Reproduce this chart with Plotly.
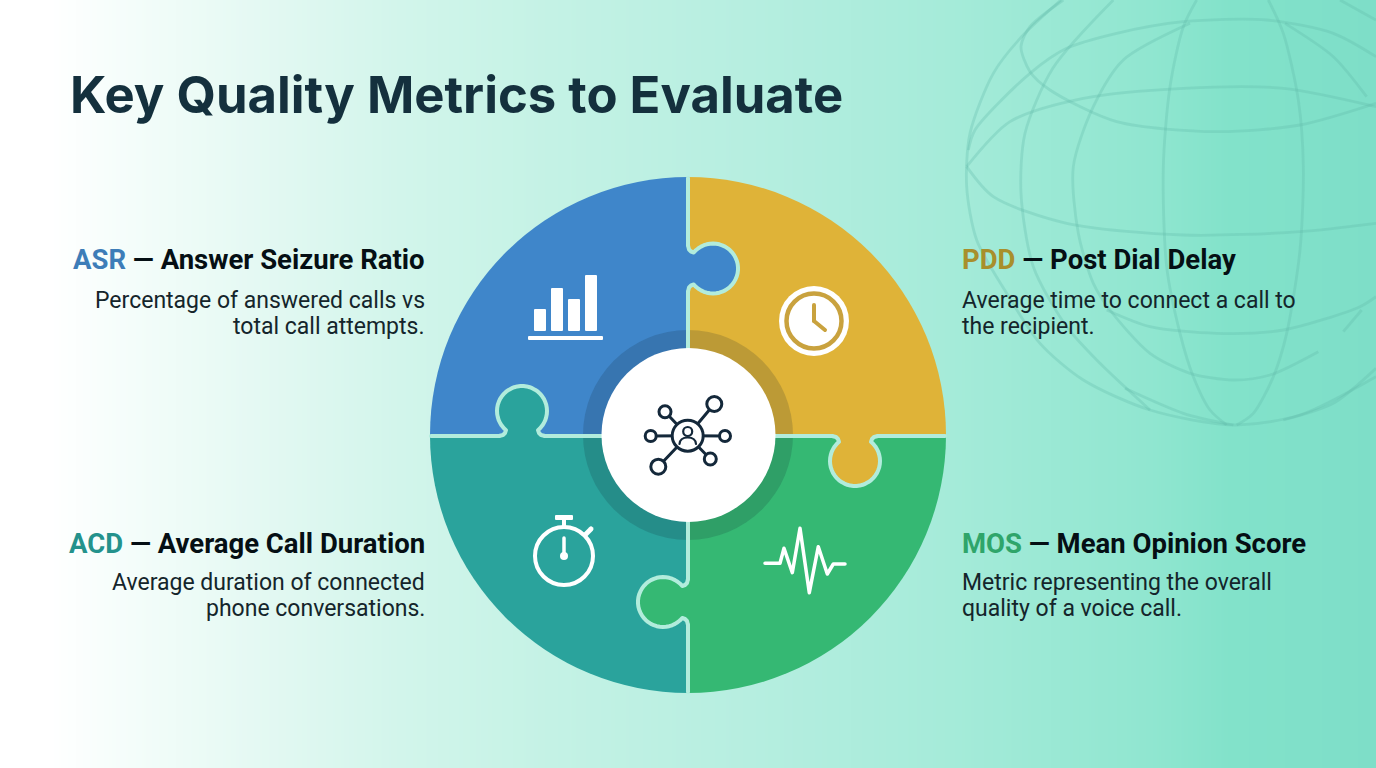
import numpy as np
import plotly.graph_objects as go

WIDTH = 1376
HEIGHT = 768
CX, CY = 688, 435
PALE = "#b2ecdc"
DARK = "#14283a"

title = "Key Quality Metrics to Evaluate"

# pie slices, clockwise from 12 o'clock
slice_names = ["PDD", "MOS", "ACD", "ASR"]
slice_values = [25, 25, 25, 25]
slice_colors = ["#dfb338", "#35b873", "#2aa39c", "#3f86ca"]

abbrevs = ["ASR", "PDD", "ACD", "MOS"]
abbrev_colors = ["#3d7db8", "#a88f2c", "#24928c", "#2fa56a"]
names = ["Answer Seizure Ratio", "Post Dial Delay", "Average Call Duration", "Mean Opinion Score"]
desc_lines = [
    ["Percentage of answered calls vs", "total call attempts."],
    ["Average time to connect a call to", "the recipient."],
    ["Average duration of connected", "phone conversations."],
    ["Metric representing the overall", "quality of a voice call."],
]

# background colour along x
bg_x = [0, 50, 100, 250, 400, 550, 750, 950, 1150, 1230, 1376]
bg_colors = ["#ffffff", "#ffffff", "#f8fefc", "#e5f9f3", "#d2f5eb", "#c4f2e5", "#b6eee0", "#a5ebd9", "#90e6d0", "#82e2ca", "#7edec8"]

# little bar chart icon
icon_bar_heights = [22, 43, 32, 56]

# pulse icon
pulse_x = [240, 285, 297, 322, 345, 373, 400, 427, 445, 480]
pulse_y = [400, 400, 355, 428, 295, 488, 350, 432, 402, 402]

# network icon nodes: x, y, r
node_x = [714.3, 665, 650.7, 725, 710.3, 658.3]
node_y = [404, 411.7, 436, 436, 459, 466.7]
node_r = [7.5, 6, 5.5, 5.5, 6, 7.5]

# background globe, traced in 3x zoom coords of the top right corner
globe_lines = [
    [(333, 0), (215, 110), (130, 220), (60, 400), (50, 560), (80, 720), (170, 880), (270, 1030), (400, 1140), (600, 1230), (850, 1275), (1050, 1245), (1278, 1130)],
    [(340, 0), (240, 80), (213, 140), (240, 215), (300, 270), (500, 365), (800, 395), (1050, 375), (1278, 310)],
    [(55, 450), (75, 390), (240, 220), (350, 145), (500, 100), (700, 65), (950, 60), (1150, 100), (1278, 170)],
    [(490, 0), (309, 204), (225, 400), (213, 580), (250, 800), (350, 980), (450, 1090), (600, 1230)],
    [(720, 70), (520, 180), (430, 320), (370, 500), (385, 700), (430, 850), (480, 930), (600, 1060), (720, 1120), (850, 1140), (960, 1125), (1105, 1055)],
    [(740, 0), (700, 80), (660, 260), (640, 500), (650, 800), (690, 1000), (730, 1130), (780, 1230), (830, 1275)],
    [(955, 0), (1000, 100), (1045, 300), (1060, 500), (1050, 750), (1010, 1000), (970, 1130), (910, 1240), (860, 1275)],
    [(50, 500), (180, 365), (400, 295), (700, 265), (1000, 265), (1278, 320)],
    [(50, 500), (130, 590), (350, 670), (700, 705), (1050, 695), (1278, 670)],
    [(470, 930), (600, 980), (800, 1000), (1000, 990), (1230, 920), (1278, 890)],
    [(525, 1165), (700, 1240), (850, 1275)],
    [(1278, 1105), (1150, 1210), (1000, 1260)],
    [(1180, 995), (1235, 930)],
    [(1005, 70), (1150, 170), (1250, 290)],
    [(1170, 0), (1278, 60)],
]


def line_shape(x0, y0, x1, y1, color, width):
    return dict(type="line", x0=x0, y0=y0, x1=x1, y1=y1, line=dict(color=color, width=width), layer="above")


def circle_shape(x, y, r, fill="rgba(0,0,0,0)", color=None, width=0):
    return dict(type="circle", x0=x - r, y0=y - r, x1=x + r, y1=y + r, fillcolor=fill,
                line=dict(color=color, width=width), layer="above")


def rect_shape(x0, y0, x1, y1, fill):
    # inset by the stroke, the round join gives the soft corners
    return dict(type="rect", x0=x0 + 1, y0=y0 + 1, x1=x1 - 1, y1=y1 - 1, fillcolor=fill,
                line=dict(color=fill, width=2), layer="above")


def path_of(points, close=False):
    d = "M" + " L".join(f"{x:.1f},{y:.1f}" for x, y in points)
    return d + (" Z" if close else "")


def puzzle_tab(bx, by, dx, dy, color, head_v=25, head_r=25):
    # outline in seam coords: u along the seam, v out along (dx, dy)
    start = np.arcsin(16 / head_r)
    angles = np.linspace(start, 2 * np.pi - start, 40)
    outline = [(-23, 0), (-19, 1), (-17, 3)]
    outline += [(-head_r * np.sin(a), head_v - head_r * np.cos(a)) for a in angles]
    outline += [(17, 3), (19, 1), (23, 0)]
    ux, uy = dy, dx
    pts = [(bx + u * ux + v * dx, by + u * uy + v * dy) for u, v in outline]
    base = [(bx + 15 * ux - 3 * dx, by + 15 * uy - 3 * dy), (bx - 15 * ux - 3 * dx, by - 15 * uy - 3 * dy)]
    return [
        dict(type="path", path=path_of(pts + base, True), fillcolor=color, line=dict(width=0), layer="above"),
        dict(type="path", path=path_of(pts), fillcolor="rgba(0,0,0,0)", line=dict(color=PALE, width=4), layer="above"),
    ]


fig = go.Figure()

fig.add_trace(go.Heatmap(
    x=bg_x, y=[0, HEIGHT], z=[bg_x, bg_x], zsmooth="best", showscale=False, hoverinfo="skip",
    colorscale=[[x / WIDTH, c] for x, c in zip(bg_x, bg_colors)],
))

for line in globe_lines:
    fig.add_trace(go.Scatter(
        x=[950 + p[0] / 3 for p in line], y=[p[1] / 3 for p in line], mode="lines",
        line=dict(color="rgba(95,185,170,0.3)", width=2.8, shape="spline", smoothing=0.8),
        hoverinfo="skip", showlegend=False,
    ))

fig.add_trace(go.Pie(
    labels=slice_names, values=slice_values, sort=False, direction="clockwise", rotation=0,
    marker=dict(colors=slice_colors, line=dict(width=0)), textinfo="none", hoverinfo="skip", showlegend=False,
    domain=dict(x=[(CX - 258) / WIDTH, (CX + 258) / WIDTH], y=[1 - (CY + 258) / HEIGHT, 1 - (CY - 258) / HEIGHT]),
))

shapes = [circle_shape(CX, CY, 105, fill="rgba(20,35,45,0.17)")]

# seams, broken where the tabs cross them
shapes += [
    line_shape(688, 178, 688, 245, PALE, 4),
    line_shape(688, 292, 688, 579, PALE, 4),
    line_shape(688, 625, 688, 692, PALE, 4),
    line_shape(431, 436, 499, 436, PALE, 4),
    line_shape(545, 436, 832, 436, PALE, 4),
    line_shape(878, 436, 945, 436, PALE, 4),
]
shapes += puzzle_tab(688, 268.5, 1, 0, slice_colors[3])
shapes += puzzle_tab(855, 436, 0, 1, slice_colors[0])
shapes += puzzle_tab(522, 436, 0, -1, slice_colors[2])
shapes += puzzle_tab(688, 602, -1, 0, slice_colors[1])

shapes.append(circle_shape(CX + 0.5, CY, 87, fill="#ffffff"))

# bar icon
for i, h in enumerate(icon_bar_heights):
    x0 = 534 + i * 17
    shapes.append(rect_shape(x0, 331 - h, x0 + 12, 331, "#ffffff"))
shapes.append(rect_shape(528, 336, 603, 340, "#ffffff"))

# clock icon
shapes.append(circle_shape(814, 321, 35, fill="#ffffff"))
shapes.append(circle_shape(814, 321, 27.5, fill="#ffffff", color="#c9a23e", width=4.5))
shapes.append(line_shape(814, 305, 814, 321, "#c9a23e", 4))
shapes.append(line_shape(814, 321, 825, 330, "#c9a23e", 4))

# stopwatch icon
shapes.append(circle_shape(564, 556, 29, color="#ffffff", width=4))
shapes.append(rect_shape(555, 515, 573, 520, "#ffffff"))
shapes.append(rect_shape(562, 519, 566, 527, "#ffffff"))
shapes.append(line_shape(586, 534, 591, 529, "#ffffff", 5))
shapes.append(line_shape(564, 538, 564, 556, "#ffffff", 3.5))
shapes.append(circle_shape(564, 556, 4, fill="#ffffff"))

# pulse icon
pulse_pts = [(685 + x / 3, 430 + y / 3) for x, y in zip(pulse_x, pulse_y)]
shapes.append(dict(type="path", path=path_of(pulse_pts), fillcolor="rgba(0,0,0,0)",
                   line=dict(color="#ffffff", width=3.5), layer="above"))

# network icon
for x, y in zip(node_x, node_y):
    shapes.append(line_shape(687.7, 435.7, x, y, DARK, 3))
for x, y, r in zip(node_x, node_y, node_r):
    shapes.append(circle_shape(x, y, r, fill="#ffffff", color=DARK, width=3))
shapes.append(circle_shape(687.7, 435.7, 15.5, fill="#ffffff", color=DARK, width=3))
shapes.append(circle_shape(687.7, 431.5, 4.5, color=DARK, width=2.2))
shapes.append(dict(type="path", path="M679.5,444 Q680,437.5 687.7,437.5 Q695.5,437.5 696,444",
                   fillcolor="rgba(0,0,0,0)", line=dict(color=DARK, width=2.2), layer="above"))

annotations = [dict(
    text=f"<b>{title}</b>", x=68, y=94, xref="x", yref="y", showarrow=False, xanchor="left", yanchor="middle",
    font=dict(family="Inter", size=50.8, color="#14303d"),
)]

anchors = [("right", 427, 259, 300), ("left", 960, 259, 300), ("right", 427, 543, 582), ("left", 960, 543, 582)]
for abbr, col, name, desc, (side, x, y_head, y_desc) in zip(abbrevs, abbrev_colors, names, desc_lines, anchors):
    annotations.append(dict(
        text=f'<b><span style="color:{col}">{abbr}</span> — {name}</b>',
        x=x, y=y_head, xref="x", yref="y", showarrow=False, xanchor=side, yanchor="middle",
        font=dict(family="Roboto", size=27.5, color="#050f14"),
    ))
    for i, line in enumerate(desc):
        annotations.append(dict(
            text=line, x=x, y=y_desc + i * 26, xref="x", yref="y", showarrow=False, xanchor=side, yanchor="middle",
            font=dict(family="Roboto", size=23, color="#14252b"),
        ))

fig.update_layout(
    width=WIDTH, height=HEIGHT, margin=dict(l=0, r=0, t=0, b=0), autosize=False,
    xaxis=dict(range=[0, WIDTH], visible=False, fixedrange=True),
    yaxis=dict(range=[HEIGHT, 0], visible=False, fixedrange=True),
    paper_bgcolor="#ffffff", plot_bgcolor="#ffffff",
    shapes=shapes, annotations=annotations, showlegend=False,
)

# no page margin, and round the icon and seam strokes
fig.write_html("out.html", config=dict(displayModeBar=False), post_script=(
    "document.body.style.margin='0';document.body.style.overflow='hidden';"
    "document.querySelectorAll('.shapelayer path').forEach(function(p){"
    "p.style.strokeLinecap='round';p.style.strokeLinejoin='round';});"
))
